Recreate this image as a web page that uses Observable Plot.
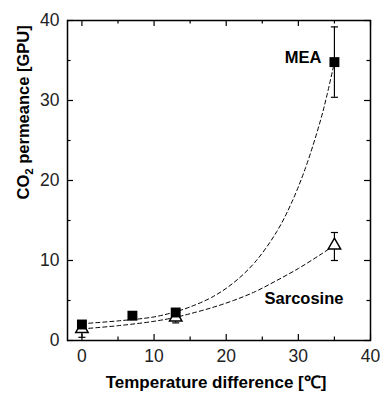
<!DOCTYPE html>
<html>
<head>
<meta charset="utf-8">
<script src="https://cdn.jsdelivr.net/npm/d3@7"></script>
<script src="https://cdn.jsdelivr.net/npm/@observablehq/plot@0.6"></script>
<style>
  html, body { margin: 0; padding: 0; background: #fff; }
  #chart svg { display: block; }
</style>
</head>
<body>
<div id="chart"></div>
<script>
// Measured CO2 permeance vs. temperature difference across the membrane
const meaTemp = [0, 7, 13, 35];
const meaPerm = [2.0, 3.1, 3.5, 34.8];
const meaErrLow = [2.0, 3.1, 3.5, 30.4];
const meaErrHigh = [2.0, 3.1, 3.5, 39.2];

const sarTemp = [0, 13, 35];
const sarPerm = [1.45, 2.9, 11.9];
const sarErrLow = [0.4, 2.2, 10.0];
const sarErrHigh = [2.4, 3.6, 13.5];

// Dashed trend curves
const meaFitTemp = [0, 5, 10, 13, 15, 18, 21, 24, 27, 29, 31, 33, 34, 35];
const meaFitPerm = [2.1, 2.45, 2.95, 3.6, 4.2, 5.4, 7.2, 9.8, 13.6, 17.1, 21.6, 27.3, 30.8, 34.8];
const sarFitTemp = [0, 5, 10, 13, 15, 18, 21, 24, 27, 30, 33, 35];
const sarFitPerm = [1.45, 1.85, 2.4, 2.9, 3.35, 4.1, 5.0, 6.1, 7.5, 9.0, 10.7, 11.9];

const xMajor = [0, 10, 20, 30, 40];
const xMinor = [5, 15, 25, 35];
const yMajor = [0, 10, 20, 30, 40];
const yMinor = [5, 15, 25, 35];

const xTitle = "Temperature difference [\u2103]";
const yTitle = "CO2 permeance [GPU]";
const meaName = "MEA";
const sarName = "Sarcosine";

const mea = meaTemp.map((t, i) => ({t, p: meaPerm[i], lo: meaErrLow[i], hi: meaErrHigh[i]}));
const sar = sarTemp.map((t, i) => ({t, p: sarPerm[i], lo: sarErrLow[i], hi: sarErrHigh[i]}));
const meaFit = meaFitTemp.map((t, i) => ({t, p: meaFitPerm[i]}));
const sarFit = sarFitTemp.map((t, i) => ({t, p: sarFitPerm[i]}));

// flat cap for error bars
const capSymbol = {
  draw(ctx, size) {
    const w = Math.sqrt(size) / 2;
    ctx.moveTo(-w, 0);
    ctx.lineTo(w, 0);
  }
};

const W = 380, H = 396;
const mL = 67, mR = 10, mT = 20, mB = 56;
const innerH = H - mT - mB;
const innerW = W - mL - mR;
const font = "'Liberation Sans', Arial, Helvetica, sans-serif";

const errBars = (rows) => [
  Plot.ruleX(rows.filter(d => d.hi > d.lo), {x: "t", y1: "lo", y2: "hi", stroke: "black", strokeWidth: 1.2}),
  Plot.dot(rows.filter(d => d.hi > d.lo), {x: "t", y: "lo", symbol: capSymbol, r: 4, stroke: "black", strokeWidth: 1.2}),
  Plot.dot(rows.filter(d => d.hi > d.lo), {x: "t", y: "hi", symbol: capSymbol, r: 4, stroke: "black", strokeWidth: 1.2})
];

const chart = Plot.plot({
  width: W,
  height: H,
  marginLeft: mL,
  marginRight: mR,
  marginTop: mT,
  marginBottom: mB,
  style: {fontFamily: font, background: "white", overflow: "visible"},
  x: {domain: [-2, 40], axis: null},
  y: {domain: [0, 40], axis: null},
  marks: [
    // inward tick marks on all four sides
    Plot.tickX(xMajor, {x: d => d, insetTop: innerH - 6, stroke: "black", strokeWidth: 1.2}),
    Plot.tickX(xMinor, {x: d => d, insetTop: innerH - 3.5, stroke: "black", strokeWidth: 1.2}),
    Plot.tickX(xMajor, {x: d => d, insetBottom: innerH - 6, stroke: "black", strokeWidth: 1.2}),
    Plot.tickX(xMinor, {x: d => d, insetBottom: innerH - 3.5, stroke: "black", strokeWidth: 1.2}),
    Plot.tickY(yMajor, {y: d => d, insetRight: innerW - 6, stroke: "black", strokeWidth: 1.2}),
    Plot.tickY(yMinor, {y: d => d, insetRight: innerW - 3.5, stroke: "black", strokeWidth: 1.2}),
    Plot.tickY(yMajor, {y: d => d, insetLeft: innerW - 6, stroke: "black", strokeWidth: 1.2}),
    Plot.tickY(yMinor, {y: d => d, insetLeft: innerW - 3.5, stroke: "black", strokeWidth: 1.2}),
    // tick labels
    Plot.axisX({ticks: xMajor, tickSize: 0, tickPadding: 9, fontSize: 17.5, label: null, fill: "#222"}),
    Plot.axisY({ticks: yMajor, tickSize: 0, tickPadding: 8, fontSize: 17.5, label: null, fill: "#222"}),
    // trend curves
    Plot.line(meaFit, {x: "t", y: "p", curve: "catmull-rom", stroke: "black", strokeWidth: 1, strokeDasharray: "4,3"}),
    Plot.line(sarFit, {x: "t", y: "p", curve: "catmull-rom", stroke: "black", strokeWidth: 1, strokeDasharray: "4,3"}),
    // error bars
    ...errBars(sar),
    ...errBars(mea),
    // measured points
    Plot.dot(sar, {x: "t", y: "p", symbol: "triangle", r: 4.6, fill: "white", stroke: "black", strokeWidth: 1.5}),
    Plot.dot(mea, {x: "t", y: "p", symbol: "square", r: 5.6, fill: "black", stroke: "none"}),
    // series labels
    Plot.text([mea[mea.length - 1]], {x: "t", y: "p", text: () => meaName, textAnchor: "end", dx: -13, dy: -4.5, fontSize: 16.5, fontWeight: "bold", fill: "black"}),
    Plot.text([sar[sar.length - 1]], {x: "t", y: "p", text: () => sarName, textAnchor: "end", dx: 9, dy: 53, fontSize: 16.5, fontWeight: "bold", fill: "black"}),
    // axis titles
    Plot.text([xTitle], {frameAnchor: "bottom", text: d => d, dx: -3, dy: 47, fontSize: 17, fontWeight: "bold", fill: "black"}),
    Plot.text([yTitle], {frameAnchor: "left", text: d => d, rotate: -90, dx: -44, dy: 19, fontSize: 16.5, fontWeight: "bold", fill: "black"}),
    Plot.frame({stroke: "black", strokeWidth: 1.5})
  ]
});

// render the "2" of CO2 as a subscript
for (const t of chart.querySelectorAll("text")) {
  if (t.textContent === yTitle) {
    t.textContent = "";
    const ns = "http://www.w3.org/2000/svg";
    const a = document.createElementNS(ns, "tspan");
    a.textContent = "CO";
    const b = document.createElementNS(ns, "tspan");
    b.textContent = "2";
    b.setAttribute("font-size", "11.5");
    b.setAttribute("dy", "4");
    const c = document.createElementNS(ns, "tspan");
    c.textContent = " permeance [GPU]";
    c.setAttribute("dy", "-4");
    t.append(a, b, c);
  }
}

document.getElementById("chart").append(chart);
</script>
</body>
</html>
